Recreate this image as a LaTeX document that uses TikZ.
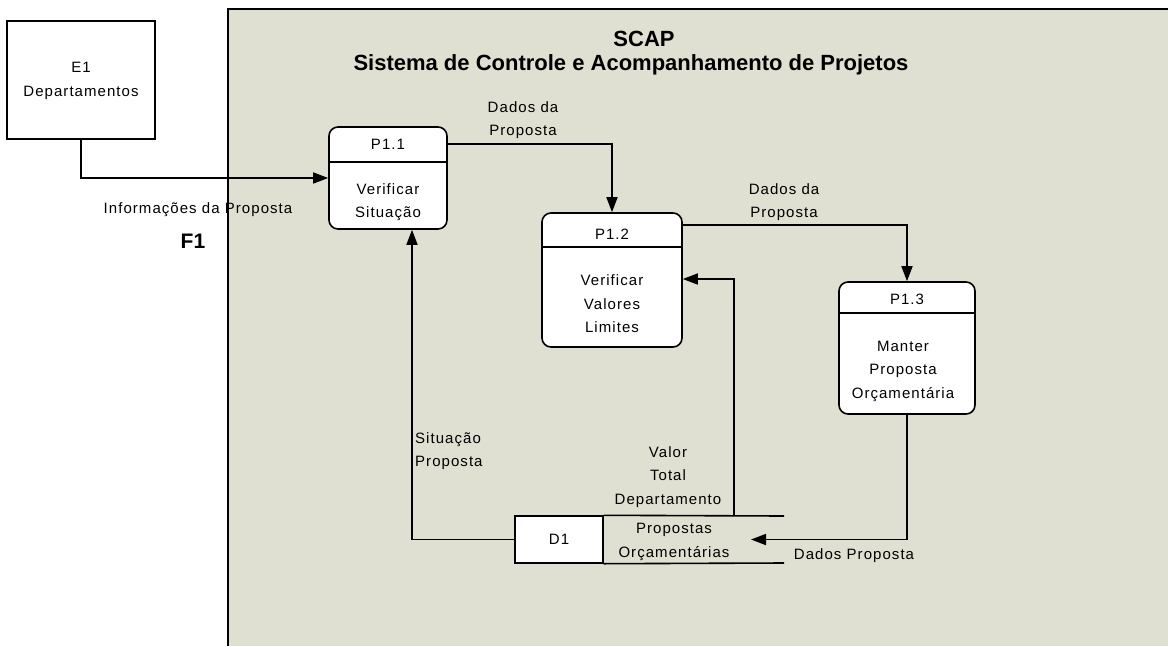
\documentclass[tikz,border=0pt]{standalone}
\usepackage{fontspec}
\setmainfont{Liberation Sans}
\newfontfamily\lblfont[LetterSpace=7]{Liberation Sans}
\usetikzlibrary{arrows.meta}
\definecolor{sysgray}{RGB}{223,223,210}
\begin{document}
\begin{tikzpicture}[x=1pt,y=-1pt,
  lbl/.style={font=\lblfont\fontsize{15}{23.5}\selectfont, inner sep=0pt, align=center},
  ttl/.style={font=\bfseries\fontsize{22}{26}\selectfont, inner sep=0pt},
  proc/.style={draw, line width=1.6pt, fill=white, rounded corners=9pt, inner sep=0pt},
  ent/.style={draw, line width=1.4pt, fill=white, inner sep=0pt},
  flow/.style={line width=1.6pt, -{Triangle[length=15pt,width=11pt]}},
  wire/.style={line width=1.6pt}]
\useasboundingbox (0,0) rectangle (1168,646);
\fill[white] (0,0) rectangle (1168,646);
\fill[sysgray] (228,9) rectangle (1168,646);
\draw[wire] (1168,9) -- (228,9) -- (228,646);

% title
\node[ttl] (t1) at (644,39) {SCAP};
\node[ttl] (t2) at (631,65) {Sistema de Controle e Acompanhamento de Projetos};

% external entity
\node[ent, minimum width=148, minimum height=118] (e1) at (81,80) {};
\node[lbl] (e1t) at (81,81) {E1\\Departamentos};

% helper coordinates
\coordinate (y144) at (0,144);
\coordinate (y162) at (0,162);
\coordinate (y225) at (0,225);
\coordinate (y247) at (0,247);
\coordinate (y279) at (0,279);
\coordinate (y313) at (0,313);
\coordinate (x412) at (412,0);

% processes
\node[proc, minimum width=118, minimum height=102] (p11) at (388,178) {};
\draw[wire] (p11.west |- y162) -- (p11.east |- y162);
\node[lbl] (p11id) at (388,144) {P1.1};
\node[lbl] (p11t) at (388,202) {Verificar\\Situação};

\node[proc, minimum width=140, minimum height=134] (p12) at (612,280) {};
\draw[wire] (p12.west |- y247) -- (p12.east |- y247);
\node[lbl] (p12id) at (612,234) {P1.2};
\node[lbl] (p12t) at (612,304) {Verificar\\Valores\\Limites};

\node[proc, minimum width=136, minimum height=132] (p13) at (907,348) {};
\draw[wire] (p13.west |- y313) -- (p13.east |- y313);
\node[lbl] (p13id) at (907,299) {P1.3};
\node[lbl] (p13t) at (903,371) {Manter\\Proposta\\Orçamentária};

% data store
\node[ent, minimum width=88, minimum height=47] (d1) at (559,539.5) {};
\node[lbl] (d1id) at (d1) {D1};
\coordinate (d1tr) at (784,516);
\coordinate (d1br) at (784,563);
\draw[wire] (d1.north east) -- (d1tr);
\draw[wire] (d1.south east) -- (d1br);
\node[lbl] (d1t) at (674,542) {Propostas\\Orçamentárias};
\coordinate (d1in) at (751,539.5);
\coordinate (d1top) at (734,516);

% flows
\draw[flow] (e1.south) |- (p11.west);
\draw[flow] (p11.east |- y144) -| (p12.north);
\draw[flow] (p12.east |- y225) -| (p13.north);
\draw[flow] (p13.south) |- (d1in);
\draw[flow] (d1top) |- (p12.east |- y279);
\draw[flow] (d1.west) -| (x412 |- p11.south);

% flow labels
\node[lbl] (l1) at (198,210) {Informações da Proposta};
\node[font=\bfseries\fontsize{21}{24}\selectfont, inner sep=0pt] (f1) at (193,241) {F1};
\node[lbl] (l2) at (523,120) {Dados da\\Proposta};
\node[lbl] (l3) at (784,202) {Dados da\\Proposta};
\node[lbl, anchor=west, align=left] (l4) at (415,451) {Situação\\Proposta};
\node[lbl] (l5) at (668,477) {Valor\\Total\\Departamento};
\node[lbl] (l6) at (854,556) {Dados Proposta};
\end{tikzpicture}
\end{document}
